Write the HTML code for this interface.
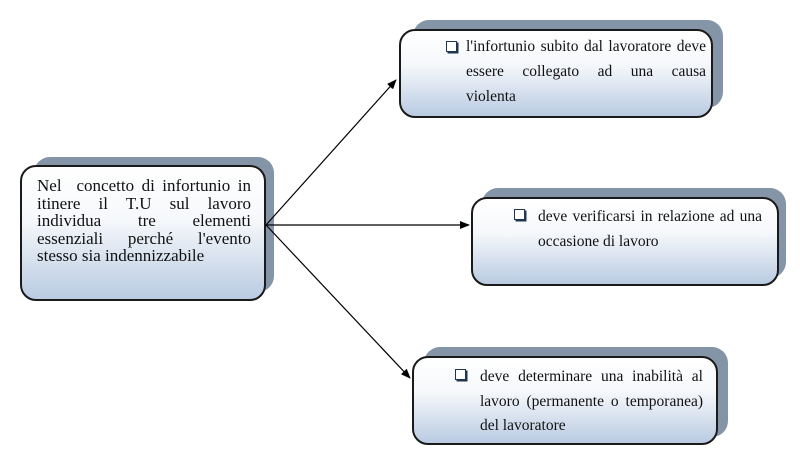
<!DOCTYPE html>
<html><head><meta charset="utf-8"><style>
body{margin:0;width:800px;height:464px;background:#fff;position:relative;overflow:hidden;font-family:"Liberation Serif",serif;color:#111}
.sh{position:absolute;background:#8595a8;border-radius:16px}
.bx{position:absolute;border:2px solid #1a1a1a;border-radius:16px;background:linear-gradient(#fff 0%,#f6f8fb 40%,#b9cbe2 100%);box-sizing:border-box}
.t{position:absolute;text-align:justify;text-align-last:left}
.l{position:absolute;font-size:15.5px;white-space:nowrap;text-align:justify;text-align-last:justify;line-height:18px}
.b{position:absolute;width:9px;height:9px;border:1.5px solid #1f3550;box-shadow:1.5px 1.5px 0 #1f3550;background:#fff}
</style></head><body>
<div class="sh" style="left:34px;top:157px;width:240px;height:135px"></div>
<div class="bx" style="left:20px;top:165px;width:246px;height:136px"></div>
<div class="t" style="left:37px;top:177px;width:214px;font-size:17px;line-height:17.6px">Nel&nbsp; concetto di infortunio in itinere il T.U sul lavoro individua tre elementi essenziali perché l'evento stesso sia indennizzabile</div>

<div class="sh" style="left:413px;top:20px;width:310px;height:88px"></div>
<div class="bx" style="left:399px;top:29px;width:314px;height:89px"></div>
<div class="b" style="left:446px;top:41px"></div>
<div class="l" style="left:466px;top:38px;width:240px">l'infortunio subito dal lavoratore deve</div>
<div class="l" style="left:466px;top:63px;width:240px">essere collegato ad una causa</div>
<div class="l" style="left:466px;top:88px;text-align-last:left">violenta</div>

<div class="sh" style="left:482px;top:188px;width:304px;height:90px"></div>
<div class="bx" style="left:471px;top:197px;width:308px;height:89px"></div>
<div class="b" style="left:514px;top:209px"></div>
<div class="l" style="left:538px;top:208px;width:224px">deve verificarsi in relazione ad una</div>
<div class="l" style="left:538px;top:233px;text-align-last:left">occasione di lavoro</div>

<div class="sh" style="left:424px;top:347px;width:304px;height:90px"></div>
<div class="bx" style="left:412px;top:356px;width:306px;height:89px"></div>
<div class="b" style="left:455px;top:369px"></div>
<div class="l" style="left:480px;top:368px;width:223px">deve determinare una inabilità al</div>
<div class="l" style="left:480px;top:393px;width:223px">lavoro (permanente o temporanea)</div>
<div class="l" style="left:480px;top:417px;text-align-last:left">del lavoratore</div>

<svg width="800" height="464" style="position:absolute;left:0;top:0">
<defs><marker id="a" markerWidth="10" markerHeight="8" refX="9" refY="4" orient="auto" markerUnits="userSpaceOnUse"><path d="M0,0L10,4L0,8z" fill="#000"/></marker></defs>
<g stroke="#000" stroke-width="1.2" fill="none">
<line x1="266" y1="225" x2="396" y2="80" marker-end="url(#a)"/>
<line x1="266" y1="225" x2="469" y2="225" marker-end="url(#a)"/>
<line x1="266" y1="225" x2="410" y2="378" marker-end="url(#a)"/>
</g></svg>
</body></html>
